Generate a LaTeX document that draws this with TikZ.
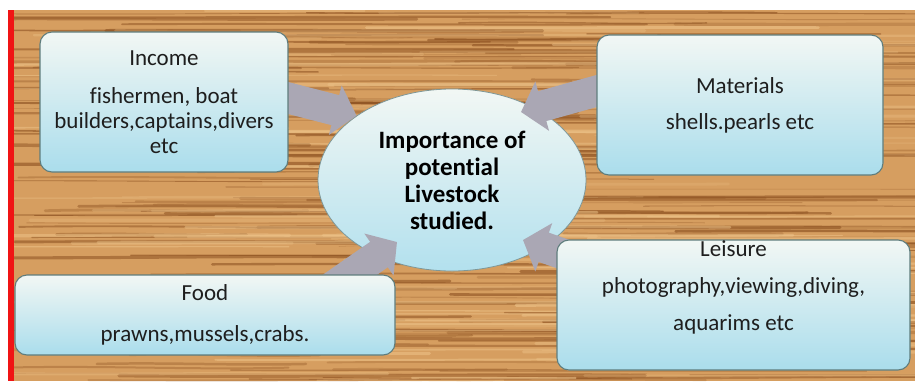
\documentclass[tikz,border=0pt]{standalone}
\usepackage{fontspec}
\setmainfont{Carlito}[Ligatures=NoCommon]
\usetikzlibrary{arrows.meta,calc,shapes.geometric}
\pgfdeclarelayer{bg}\pgfdeclarelayer{ell}\pgfdeclarelayer{arr}
\pgfsetlayers{bg,ell,arr,main}
\definecolor{woodbase}{RGB}{214,158,96}
\definecolor{wooddark}{RGB}{140,80,32}
\definecolor{woodlight}{RGB}{238,196,138}
\definecolor{boxtop}{RGB}{242,247,244}
\definecolor{boxbot}{RGB}{170,221,236}
\definecolor{boxline}{RGB}{95,125,125}
\definecolor{arrowgray}{RGB}{170,167,180}
\definecolor{txt}{RGB}{30,30,30}
\definecolor{redline}{RGB}{240,20,20}
\tikzset{
 infobox/.style={rectangle, rounded corners=12pt, draw=boxline, line width=1.1pt, top color=boxtop, bottom color=boxbot, align=center, text=txt, font=\fontsize{23}{25}\selectfont, inner sep=0pt},
 boxtext/.style={align=center, text=txt, font=\fontsize{23}{25}\selectfont, inner sep=0pt},
 hub/.style={ellipse, draw=boxline!80, line width=0.8pt, top color=boxtop, bottom color=boxbot!90, align=center, text=black, font=\bfseries\fontsize{25}{27}\selectfont, inner sep=0pt, minimum width=268pt, minimum height=182pt},
 feed/.style={draw=arrowgray, line width=31pt, -{Triangle[length=22pt,width=50pt]}},
}
\begin{document}
\begin{tikzpicture}[x=1pt,y=1pt]
\useasboundingbox (0,0) rectangle (915,-381);
\begin{pgfonlayer}{bg}
\fill[white] (0,0) rectangle (915,-381);
\fill[woodbase] (14,-10) rectangle (915,-381);
\begin{scope}
\clip (14,-10) rectangle (915,-381);
\pgfmathsetseed{42}
\foreach \i in {1,...,180}{
 \pgfmathsetmacro{\yy}{-10-371*rnd}
 \pgfmathsetmacro{\xa}{-100+800*rnd}
 \pgfmathsetmacro{\len}{150+600*rnd}
 \pgfmathsetmacro{\lw}{0.5+3*rnd}
 \pgfmathsetmacro{\op}{0.2+0.45*rnd}
 \pgfmathsetmacro{\dy}{5*(rnd-0.5)}
 \draw[wooddark, line width=\lw pt, opacity=\op, line cap=round] (\xa,\yy) .. controls ({\xa+\len/3},{\yy+\dy}) and ({\xa+2*\len/3},{\yy-\dy}) .. ({\xa+\len},\yy);
}
\foreach \i in {1,...,90}{
 \pgfmathsetmacro{\yy}{-10-371*rnd}
 \pgfmathsetmacro{\xa}{-100+800*rnd}
 \pgfmathsetmacro{\len}{150+500*rnd}
 \pgfmathsetmacro{\lw}{0.8+2.5*rnd}
 \pgfmathsetmacro{\op}{0.2+0.4*rnd}
 \pgfmathsetmacro{\dy}{4*(rnd-0.5)}
 \draw[woodlight, line width=\lw pt, opacity=\op, line cap=round] (\xa,\yy) .. controls ({\xa+\len/3},{\yy+\dy}) and ({\xa+2*\len/3},{\yy-\dy}) .. ({\xa+\len},\yy);
}
\end{scope}
\fill[redline] (8,-10) rectangle (14,-381);
\end{pgfonlayer}
\begin{pgfonlayer}{ell}
\node[hub] (hubnode) at (452,-180) {Importance of\\potential\\Livestock\\studied.};
\end{pgfonlayer}
\node[infobox, minimum width=248pt, minimum height=140pt] (income) at (164,-102) {Income\\[13pt]fishermen, boat\\builders,captains,divers\\etc};
\node[infobox, minimum width=286pt, minimum height=140pt] (materials) at (740,-105) {Materials\\[11pt]shells.pearls etc};
\node[infobox, minimum width=380pt, minimum height=80pt] (food) at (205,-315) {Food\\[16pt]prawns,mussels,crabs.};
\node[infobox, minimum width=353pt, minimum height=130pt] (leisure) at (733.5,-305) {};
\node[boxtext] (leisuretext) at (733.5,-287.5) {Leisure\\[12pt]photography,viewing,diving,\\[12pt]aquarims etc};
\begin{pgfonlayer}{arr}
\draw[feed] ($(income.east)+(-12,7)$) -- (hubnode.146);
\draw[feed] ($(materials.west)+(11,17)$) -- ($(hubnode.center)+(69,68)$);
\draw[feed] ($(food.north)+(118,-19)$) -- ($(hubnode.center)+(-55,-62)$);
\draw[feed] ($(leisure.north west)+(22,-20)$) -- ($(hubnode.center)+(71,-60)$);
\end{pgfonlayer}
\end{tikzpicture}
\end{document}
